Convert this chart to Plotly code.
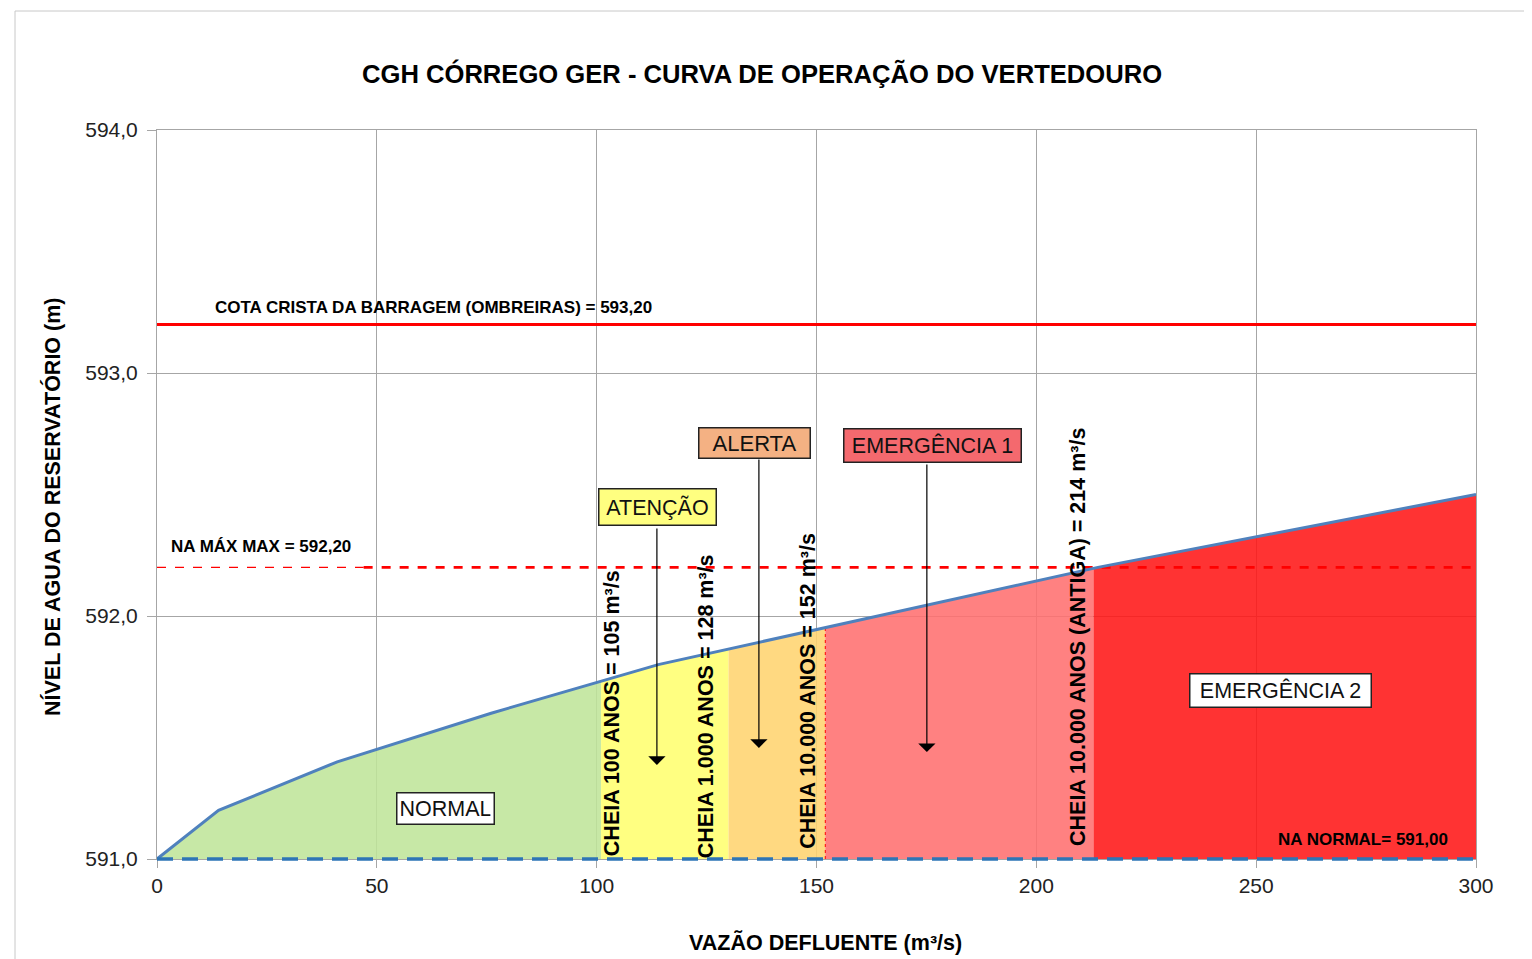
import numpy as np
import plotly.graph_objects as go

# ---------------- data ----------------
curve_q = [0, 14, 41, 76, 114, 164, 214, 300]                 # vazão (m³/s)
curve_h = [591.0, 591.2, 591.4, 591.6, 591.8, 592.0, 592.2, 592.5]  # nível (m)

zone_edges = [0, 101, 130, 152, 213, 300]
zone_names = ["NORMAL", "ATENÇÃO", "ALERTA", "EMERGÊNCIA 1", "EMERGÊNCIA 2"]
zone_colors = ["#c7e8a6", "#ffff80", "#ffd980", "#ff8080", "#ff3333"]

crest_level = 593.20
max_level = 592.20
normal_level = 591.00

flood_q = [105, 128, 152, 214]
flood_labels = ["CHEIA 100 ANOS = 105 m³/s", "CHEIA 1.000 ANOS = 128 m³/s",
                "CHEIA 10.000 ANOS = 152 m³/s", "CHEIA 10.000 ANOS (ANTIGA) = 214 m³/s"]
flood_label_x = [103.5, 124.9, 148.0, 209.5]
flood_label_y = [591.016, 591.008, 591.045, 591.058]

x_ticks = [0, 50, 100, 150, 200, 250, 300]
y_ticks = [591.0, 592.0, 593.0, 594.0]

FONT = "Liberation Sans, Arial, sans-serif"

# page offset (browser body margin) compensation
OFF = 8
W, H = 1532 - OFF, 959 - OFF
L, T, R, B = 157 - OFF, 130 - OFF, 56, 100
PW, PH = W - L - R, H - T - B


def px_to_paper_x(px):
    return (px - OFF - L) / PW


def px_to_paper_y(py):
    return (H - B - (py - OFF)) / PH


def rgba_over_white(hexcol, alpha):
    r, g, b = (int(hexcol[i:i + 2], 16) for i in (1, 3, 5))
    f = lambda c: max(0, min(255, round((c - (1 - alpha) * 255) / alpha)))
    return f"rgba({f(r)},{f(g)},{f(b)},{alpha})"


fig = go.Figure()

# zone fills under the curve
for i, name in enumerate(zone_names):
    a, b = zone_edges[i], zone_edges[i + 1]
    xs = [a] + [q for q in curve_q if a < q < b] + [b]
    ys = list(np.interp(xs, curve_q, curve_h))
    px = xs + [b, a]
    py = ys + [normal_level, normal_level]
    fig.add_trace(go.Scatter(x=px, y=py, fill="toself", mode="lines",
                             line=dict(width=0, color=zone_colors[i]),
                             fillcolor=rgba_over_white(zone_colors[i], 0.88),
                             hoverinfo="skip", showlegend=False))

# thin red dashed boundary at 152
fig.add_trace(go.Scatter(x=[152, 152], y=[normal_level, float(np.interp(152, curve_q, curve_h))],
                         mode="lines", line=dict(color="#ff0000", width=1, dash="dot"),
                         hoverinfo="skip", showlegend=False))

# crest line
fig.add_trace(go.Scatter(x=[0, 300], y=[crest_level, crest_level], mode="lines",
                         line=dict(color="#ff0000", width=3), showlegend=False, hoverinfo="skip"))
# max level dashed
fig.add_trace(go.Scatter(x=[0, 47], y=[max_level, max_level], mode="lines",
                         line=dict(color="#ff0000", width=1.3, dash="dash"), showlegend=False, hoverinfo="skip"))
fig.add_trace(go.Scatter(x=[47, 300], y=[max_level, max_level], mode="lines",
                         line=dict(color="#ff0000", width=2.6, dash="dash"), showlegend=False, hoverinfo="skip"))
# operation curve
fig.add_trace(go.Scatter(x=curve_q, y=curve_h, mode="lines",
                         line=dict(color="#4f81bd", width=3), showlegend=False, hoverinfo="skip"))

ann = []
# vertical flood labels
for lx, ly, txt in zip(flood_label_x, flood_label_y, flood_labels):
    ann.append(dict(x=lx, y=ly, xref="x", yref="y", text=f"<b>{txt}</b>", textangle=-90, showarrow=False,
                    xanchor="center", yanchor="bottom", yshift=-3,
                    font=dict(family=FONT, size=21.5, color="#000000")))

# level labels
ann.append(dict(x=63.0, y=593.27, xref="x", yref="y", text="<b>COTA CRISTA DA BARRAGEM (OMBREIRAS) = 593,20</b>",
                showarrow=False, font=dict(family=FONT, size=17, color="#000")))
ann.append(dict(x=23.65, y=592.284, xref="x", yref="y", text="<b>NA MÁX MAX = 592,20</b>",
                showarrow=False, font=dict(family=FONT, size=17, color="#000")))
ann.append(dict(x=274.4, y=591.082, xref="x", yref="y", text="<b>NA NORMAL= 591,00</b>",
                showarrow=False, font=dict(family=FONT, size=17, color="#000")))

# arrows (tail -> tip)
arrows = [(113.7, 592.366, 591.387), (136.9, 592.65, 591.457), (175.1, 592.63, 591.44)]
for ax_, y0, y1 in arrows:
    ann.append(dict(x=ax_, y=y1, ax=ax_, ay=y0, xref="x", yref="y", axref="x", ayref="y",
                    text="", showarrow=True, arrowhead=1, arrowsize=2.4, arrowwidth=1.2,
                    arrowcolor="#000"))

# boxes: (text, x, y, bg, width, height, fontsize)
boxes = [("ATENÇÃO", 113.9, 592.449, "#ffff80", 110, 29, 21.5),
         ("ALERTA", 136.0, 592.712, "#f4b183", 104, 23, 22),
         ("EMERGÊNCIA 1", 176.3, 592.70, "#f4696e", 170, 26, 21.5),
         ("EMERGÊNCIA 2", 255.6, 591.695, "#ffffff", 174, 26, 21.5),
         ("NORMAL", 65.7, 591.206, "#ffffff", 90, 24, 21.5)]
for txt, bx, by, bg, w, h, fs in boxes:
    ann.append(dict(x=bx, y=by, xref="x", yref="y", text=txt, showarrow=False,
                    bgcolor=bg, bordercolor="#222", borderwidth=1.5, borderpad=3,
                    width=w, height=h, font=dict(family=FONT, size=fs, color="#111")))

# titles
ann.append(dict(x=px_to_paper_x(762), y=px_to_paper_y(73), xref="paper", yref="paper",
                xanchor="center", yanchor="middle",
                text="<b>CGH CÓRREGO GER - CURVA DE OPERAÇÃO DO VERTEDOURO</b>", showarrow=False,
                font=dict(family=FONT, size=25.6, color="#000")))
ann.append(dict(x=px_to_paper_x(825), y=px_to_paper_y(942), xref="paper", yref="paper",
                xanchor="center", yanchor="middle",
                text="<b>VAZÃO DEFLUENTE (m³/s)</b>", showarrow=False,
                font=dict(family=FONT, size=21.5, color="#000")))
ann.append(dict(x=px_to_paper_x(52), y=px_to_paper_y(507), xref="paper", yref="paper",
                xanchor="center", yanchor="middle",
                text="<b>NÍVEL DE AGUA DO RESERVATÓRIO (m)</b>", showarrow=False, textangle=-90,
                font=dict(family=FONT, size=21.5, color="#000")))

fig.update_layout(
    width=W, height=H,
    margin=dict(l=L, r=R, t=T, b=B),
    paper_bgcolor="white", plot_bgcolor="white",
    separators=", ",
    annotations=ann,
    shapes=[dict(type="rect", xref="paper", yref="paper",
                 x0=px_to_paper_x(15), x1=px_to_paper_x(1531),
                 y0=px_to_paper_y(962), y1=px_to_paper_y(11),
                 line=dict(color="#c8c8c8", width=1), fillcolor="rgba(0,0,0,0)", layer="below"),
            # NA normal level (bottom of y range) dashed blue, unclipped vertically
            dict(type="line", xref="x", yref="paper", x0=0, x1=300, y0=0, y1=0,
                 line=dict(color="#2e75b6", width=3.5, dash="16px,9px"), layer="above")],
)
fig.update_xaxes(range=[0, 300], tickvals=x_ticks, showgrid=True, gridcolor="#a6a6a6", gridwidth=1,
                 showline=True, linecolor="#a6a6a6", mirror=True, ticks="outside", ticklen=8,
                 tickcolor="#a6a6a6", zeroline=False,
                 tickfont=dict(family=FONT, size=21, color="#222"))
fig.update_yaxes(range=[591, 594], tickvals=y_ticks, tickformat=".1f", showgrid=True,
                 gridcolor="#a6a6a6", gridwidth=1, showline=True, linecolor="#a6a6a6", mirror=True,
                 ticks="outside", ticklen=9, tickcolor="#a6a6a6", zeroline=False,
                 ticklabelstandoff=5,
                 tickfont=dict(family=FONT, size=21, color="#222"))

fig.write_html("out.html")
